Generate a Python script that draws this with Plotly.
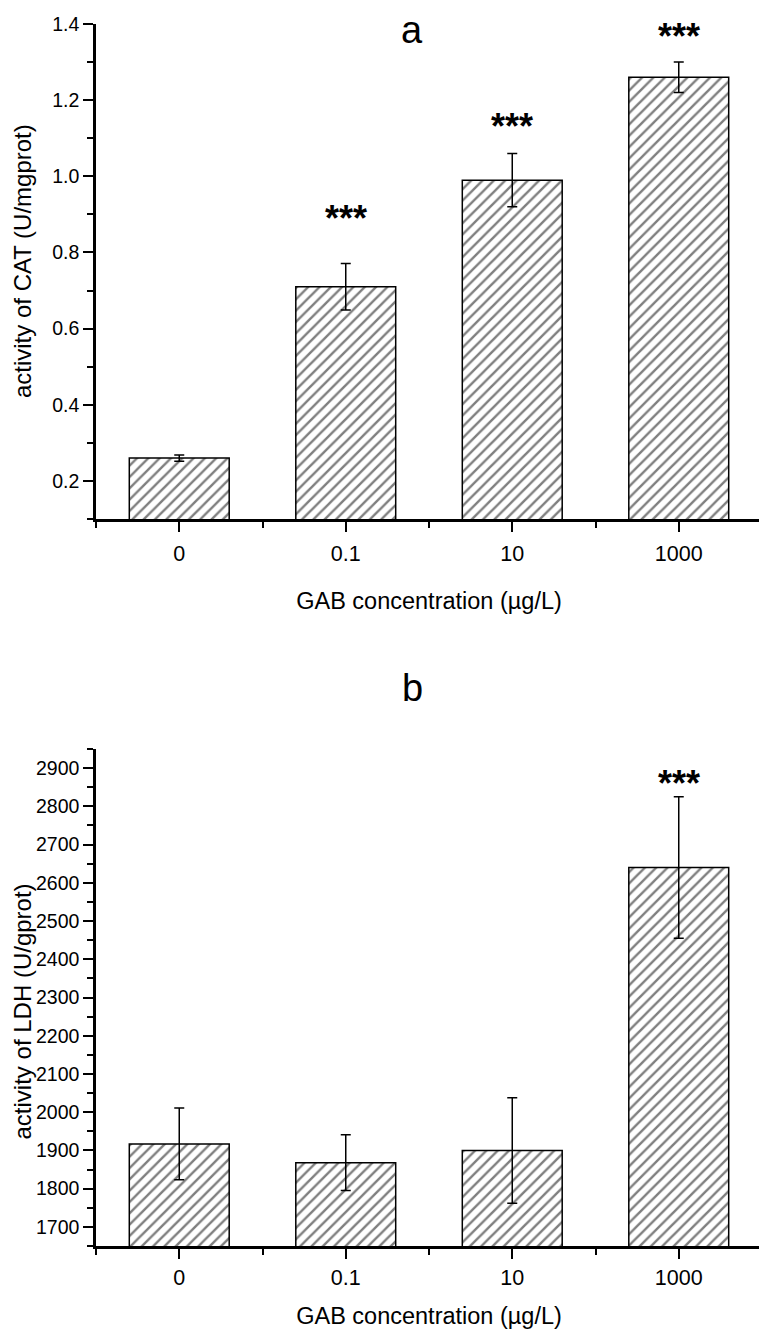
import plotly.graph_objects as go

# ---- data ----
categories = ["0", "0.1", "10", "1000"]
cat_mean = [0.26, 0.71, 0.99, 1.26]
cat_err = [0.008, 0.061, 0.07, 0.04]
cat_sig = ["", "***", "***", "***"]

ldh_mean = [1917, 1868, 1900, 2640]
ldh_err = [94, 73, 138, 185]
ldh_sig = ["", "", "", "***"]

# ---- style ----
W, H = 759, 1327   # page body has an 8px margin
ML, MR, MT, MB = 88, 5, 16, 89
FONT = "Liberation Sans, Arial, sans-serif"
xs = list(range(len(categories)))
cat_star_shift = [0, 45, 27, 26]
ldh_star_shift = [0, 0, 0, 13]
STAR_SIZE = 36

fig = go.Figure()


def add_bars(mean, err, xa, ya):
    fig.add_trace(go.Bar(
        x=xs, y=mean, width=0.6,
        xaxis=xa, yaxis=ya,
        marker=dict(
            color="white",
            line=dict(color="black", width=1.5),
            pattern=dict(shape="/", fgcolor="black", bgcolor="white",
                         size=8, solidity=0.3, fillmode="overlay"),
        ),
        error_y=dict(type="data", array=err, visible=True,
                     color="black", thickness=1.5, width=5),
        showlegend=False,
    ))


add_bars(cat_mean, cat_err, "x", "y")
add_bars(ldh_mean, ldh_err, "x2", "y2")

annotations = []
for i, s in enumerate(cat_sig):
    if s:
        annotations.append(dict(x=xs[i], y=cat_mean[i] + cat_err[i], xref="x", yref="y",
                                text="<b>" + s + "</b>", showarrow=False, yanchor="middle",
                                yshift=cat_star_shift[i],
                                font=dict(family=FONT, size=STAR_SIZE, color="black")))
for i, s in enumerate(ldh_sig):
    if s:
        annotations.append(dict(x=xs[i], y=ldh_mean[i] + ldh_err[i], xref="x2", yref="y2",
                                text="<b>" + s + "</b>", showarrow=False, yanchor="middle",
                                yshift=ldh_star_shift[i],
                                font=dict(family=FONT, size=STAR_SIZE, color="black")))

# panel letters
annotations.append(dict(x=0.4745, y=1.0131, xref="paper", yref="paper", text="a",
                        showarrow=False, xanchor="center", yanchor="top", borderpad=0,
                        font=dict(family=FONT, size=38, color="black")))
annotations.append(dict(x=0.4745, y=0.4566, xref="paper", yref="paper", text="b",
                        showarrow=False, xanchor="center", yanchor="middle",
                        font=dict(family=FONT, size=38, color="black")))

# y-axis titles (placed as rotated annotations for exact positioning)
ytitlefont = dict(family=FONT, size=24, color="black")
left_edge = -ML / (W - ML - MR)
annotations.append(dict(x=left_edge, y=0.8056, xref="paper", yref="paper",
                        text="activity of CAT (U/mgprot)", textangle=-90,
                        showarrow=False, xanchor="left", yanchor="middle", borderpad=0,
                        font=ytitlefont))
annotations.append(dict(x=left_edge, y=0.1915, xref="paper", yref="paper",
                        text="activity of LDH (U/gprot)", textangle=-90,
                        showarrow=False, xanchor="left", yanchor="middle", borderpad=0,
                        font=ytitlefont))

xtickfont = dict(family=FONT, size=21.5, color="black")
ytickfont = dict(family=FONT, size=19.5, color="black")
xtitlefont = dict(family=FONT, size=23.5, color="black")

xaxis_common = dict(
    range=[-0.5, 3.5], tickvals=xs, ticktext=categories,
    showline=True, linecolor="black", linewidth=2.5,
    ticks="outside", ticklen=10, tickwidth=2, tickcolor="black",
    minor=dict(ticks="outside", ticklen=6, tickwidth=2, tickcolor="black",
               tick0=-0.5, dtick=1),
    showgrid=False, zeroline=False, tickfont=xtickfont, automargin=False,
)
yaxis_common = dict(
    showline=True, linecolor="black", linewidth=2.5,
    ticks="outside", ticklen=10, tickwidth=2, tickcolor="black",
    showgrid=False, zeroline=False, tickfont=ytickfont, automargin=False,
)

fig.update_layout(
    width=W, height=H,
    margin=dict(l=ML, r=MR, t=MT, b=MB),
    paper_bgcolor="white", plot_bgcolor="white",
    font=dict(family=FONT, color="black"),
    annotations=annotations,
    xaxis=dict(**xaxis_common, anchor="y", ticklabelstandoff=3,
               title=dict(text="GAB concentration (µg/L)", font=xtitlefont, standoff=28)),
    yaxis=dict(**yaxis_common, domain=[0.5949, 1.0], range=[0.1, 1.4],
               tickvals=[0.2, 0.4, 0.6, 0.8, 1.0, 1.2, 1.4],
               ticktext=["0.2", "0.4", "0.6", "0.8", "1.0", "1.2", "1.4"],
               minor=dict(ticks="outside", ticklen=6, tickwidth=2, tickcolor="black",
                          tick0=0.1, dtick=0.1)),
    xaxis2=dict(**xaxis_common, anchor="y2",
                title=dict(text="GAB concentration (µg/L)", font=xtitlefont, standoff=20)),
    yaxis2=dict(**yaxis_common, domain=[0.0, 0.4067], range=[1650, 2950],
                tick0=1700, dtick=100,
                minor=dict(ticks="outside", ticklen=6, tickwidth=2, tickcolor="black",
                           tick0=1650, dtick=50)),
)

fig.write_html("out.html")
